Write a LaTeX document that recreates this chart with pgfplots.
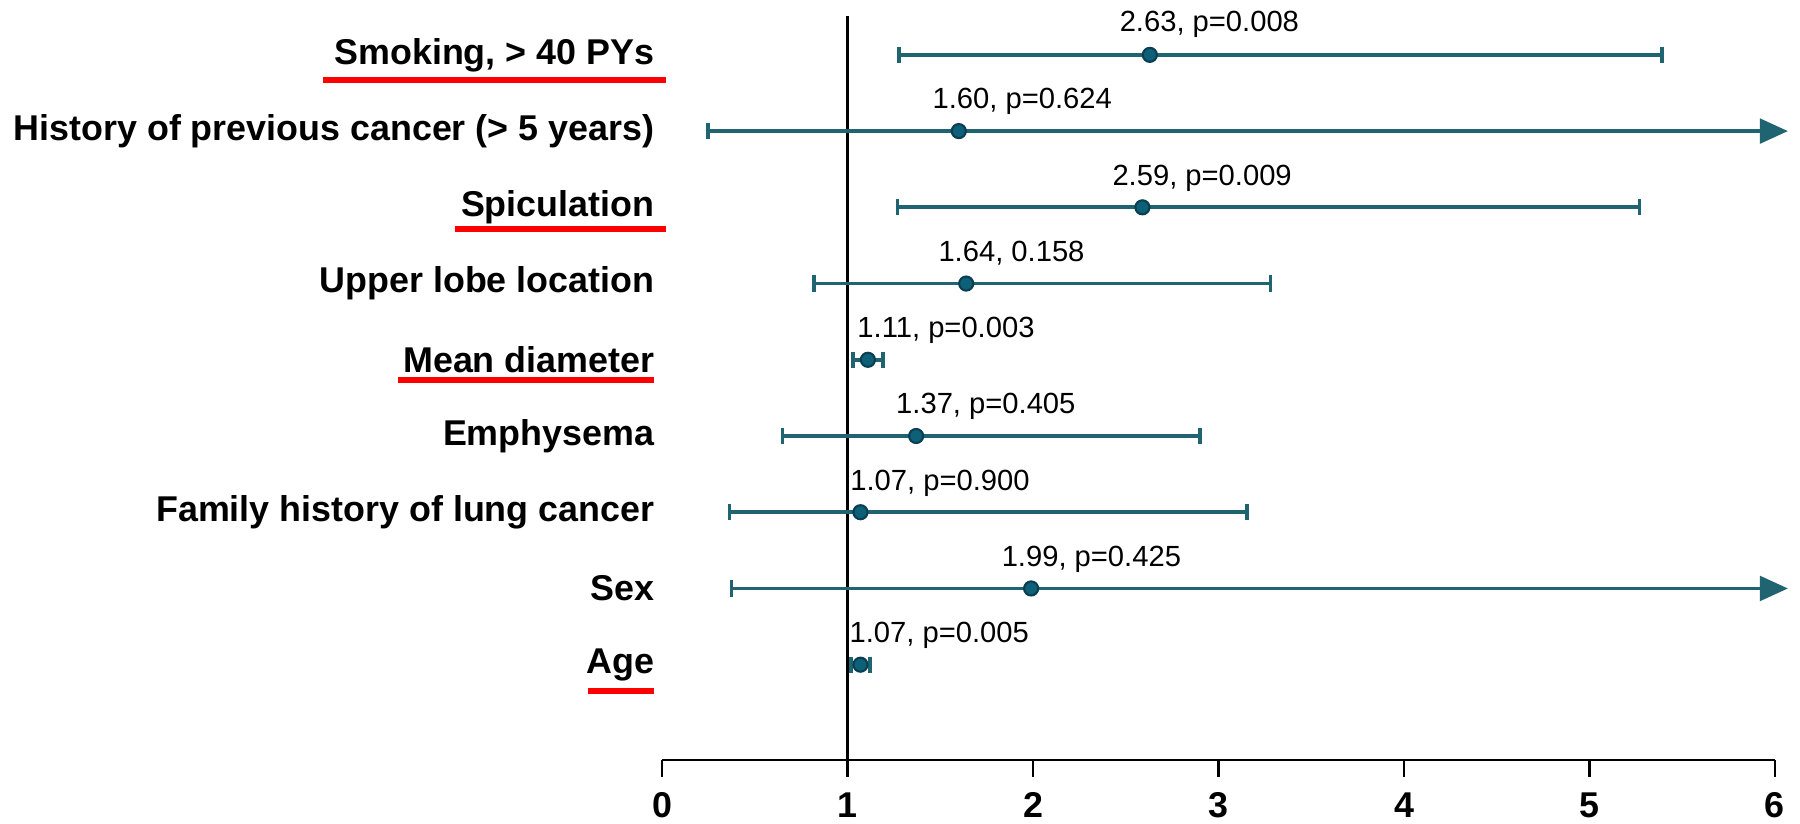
\documentclass[border=0pt]{standalone}
\usepackage{pgfplots}
\pgfplotsset{compat=1.18}
\usepackage{pgfplotstable}
\usepackage{fontspec}
\setmainfont{Liberation Sans}
\usetikzlibrary{arrows.meta}
\definecolor{ci}{HTML}{1F6470}
\definecolor{markfill}{HTML}{0E6079}
\definecolor{markdraw}{HTML}{0A3F52}

\pgfplotstableread{
y or lo hi
9 2.63 1.279 5.39
7 2.59 1.27 5.27
6 1.64 0.82 3.28
5 1.11 1.03 1.19
4 1.37 0.65 2.90
3 1.07 0.364 3.155
1 1.07 1.02 1.12
}\cidata
\pgfplotstableread{
y or lo
8 1.60 0.239
2 1.99 0.364
}\arrowdata

\begin{document}
\begin{tikzpicture}
\begin{axis}[
  scale only axis, width=11.13cm, height=7.44cm,
  xmin=0, xmax=6, ymin=-0.25, ymax=9.51,
  clip=false,
  axis x line*=bottom, axis y line*=left,
  y axis line style={draw=none},
  x axis line style={line width=0.8pt},
  xtick={0,...,6}, ytick={1,...,9},
  yticklabels={Age, Sex, Family history of lung cancer, Emphysema, Mean diameter, Upper lobe location, Spiculation, History of previous cancer (> 5 years), {Smoking, > 40 PYs}},
  tick align=outside, major tick length=0.17cm,
  xtick style={black, line width=0.8pt},
  ytick style={draw=none},
  /pgf/number format/assume math mode=true,
  xticklabel style={font=\bfseries\fontsize{10.2}{12}\selectfont, yshift=-0.03cm},
  yticklabel style={font=\bfseries\fontsize{10.2}{12}\selectfont, anchor=east, inner sep=0pt, xshift=0.10cm},
]
% reference line
\draw[black, line width=0.6pt] (axis cs:1,-0.25) -- (axis cs:1,9.51);
\coordinate (O) at (axis cs:0,-0.25);
% red underlines
\draw[red, line width=0.06cm] (axis cs:-1.825,8.67) -- (axis cs:0.020,8.67);
\draw[red, line width=0.06cm] (axis cs:-1.116,6.71) -- (axis cs:0.020,6.71);
\draw[red, line width=0.06cm] (axis cs:-1.423,4.74) -- (axis cs:-0.043,4.74);
\draw[red, line width=0.06cm] (axis cs:-0.399,0.66) -- (axis cs:-0.043,0.66);
% CIs
\addplot[draw=none, mark=none,
  error bars/.cd, x dir=both, x explicit, error mark=|,
  error bar style={ci, line width=1.05pt},
  error mark options={ci, line width=1.05pt, mark size=2.3pt}]
  table[x=or, y=y, x error plus expr=\thisrow{hi}-\thisrow{or}, x error minus expr=\thisrow{or}-\thisrow{lo}] {\cidata};
\addplot[ci, line width=1.05pt, mark=none, arrows={Bar[width=4.6pt]-Triangle[width=7pt,length=8pt]}] coordinates {(0.239,8) (6.07,8)};
\addplot[ci, line width=1.05pt, mark=none, arrows={Bar[width=4.6pt]-Triangle[width=7pt,length=8pt]}] coordinates {(0.364,2) (6.07,2)};
% points
\addplot[only marks, mark=*, mark size=2.0pt, mark options={fill=markfill, draw=markdraw, line width=0.6pt}] table[x=or, y=y] {\cidata};
\addplot[only marks, mark=*, mark size=2.0pt, mark options={fill=markfill, draw=markdraw, line width=0.6pt}] table[x=or, y=y] {\arrowdata};
% annotations
\begin{scope}[every node/.style={anchor=base west, inner sep=0pt, font=\fontsize{8.3}{10}\selectfont}]
\node at (axis cs:2.464,9.31) {2.63, p=0.008};
\node at (axis cs:1.455,8.29) {1.60, p=0.624};
\node at (axis cs:2.425,7.29) {2.59, p=0.009};
\node at (axis cs:1.487,6.29) {1.64, 0.158};
\node at (axis cs:1.050,5.29) {1.11, p=0.003};
\node at (axis cs:1.259,4.29) {1.37, p=0.405};
\node at (axis cs:1.012,3.29) {1.07, p=0.900};
\node at (axis cs:1.828,2.29) {1.99, p=0.425};
\node at (axis cs:1.008,1.29) {1.07, p=0.005};
\end{scope}
\end{axis}
\pgfresetboundingbox
\path (O) ++(-6.62cm,-0.64cm) rectangle ++(18cm,8.24cm);
\end{tikzpicture}
\end{document}
